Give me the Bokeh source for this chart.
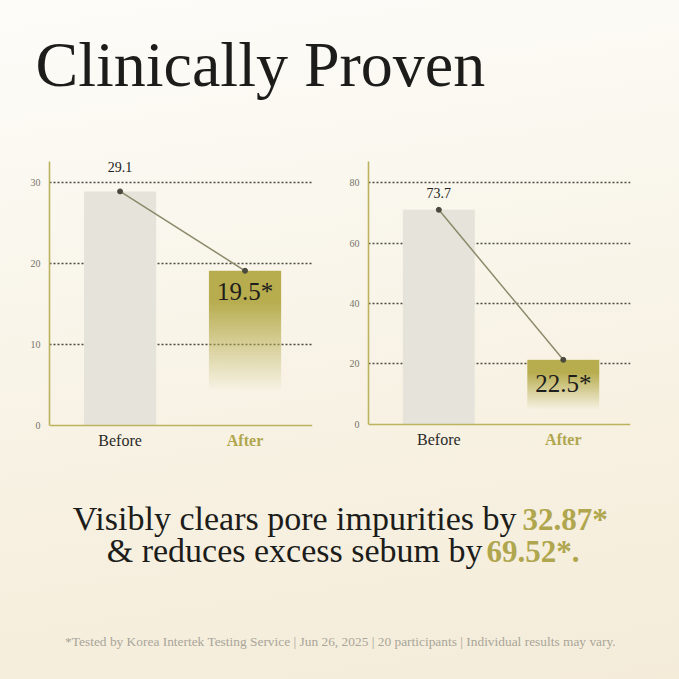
import numpy as np
from bokeh.plotting import figure
from bokeh.models import Range1d, FixedTicker, Label, LinearAxis
from bokeh.layouts import column, row
from bokeh.embed import file_html
from bokeh.resources import INLINE

# ---------------- data ----------------
categories = ["Before", "After"]
pore_values = [28.9, 19.1]          # bar heights as drawn
pore_labels = ["29.1", "19.5*"]
pore_ticks = [0, 10, 20, 30]
sebum_values = [71.0, 21.3]         # bar heights as drawn
sebum_labels = ["73.7", "22.5*"]
sebum_ticks = [0, 20, 40, 60, 80]

title_text = "Clinically Proven"
line1_text = "Visibly clears pore impurities by"
line1_value = "32.87*"
line2_text = "& reduces excess sebum by"
line2_value = "69.52*."
footnote = "*Tested by Korea Intertek Testing Service | Jun 26, 2025 | 20 participants | Individual results may vary."

# ---------------- style ----------------
SERIF = "Liberation Serif"
OLIVE = "#b0a64e"
GRAY_BAR = "#e6e3db"
DARK = "#1c1c1a"
BASE = 0.375  # baseline correction factor for labels


def gradient_image(rgb, n=200, solid_top=0.8, clear_bottom=0.22):
    t = np.linspace(0.0, 1.0, n)
    alpha = np.clip((t - clear_bottom) / (solid_top - clear_bottom), 0, 1)
    img = np.zeros((n, 1), dtype=np.uint32)
    view = img.view(dtype=np.uint8).reshape((n, 1, 4))
    view[:, 0, 0] = rgb[0]
    view[:, 0, 1] = rgb[1]
    view[:, 0, 2] = rgb[2]
    view[:, 0, 3] = (alpha * 255).astype(np.uint8)
    return img


def blank(width, height):
    p = figure(width=width, height=height, x_range=Range1d(0, width), y_range=Range1d(0, height),
               output_backend="svg", toolbar_location=None, title=None,
               min_border=0, min_border_left=0, min_border_right=0,
               min_border_top=0, min_border_bottom=0)
    p.axis.visible = False
    p.grid.visible = False
    p.background_fill_alpha = 0
    p.border_fill_alpha = 0
    p.outline_line_color = None
    return p


def text(p, x, y, s, size, color=DARK, align="left", bold=False):
    p.add_layout(Label(x=x, y=y + BASE * size, text=s, text_align=align, text_baseline="alphabetic",
                       text_font=SERIF, text_font_style="bold" if bold else "normal",
                       text_font_size=f"{size}px", text_color=color))


def chart(values, labels, ticks, y_start, y_end, width, height, borders, top_off, inside_off):
    bw = 0.578
    p = figure(width=width, height=height, x_range=Range1d(-0.565, 1.54), y_range=Range1d(y_start, y_end),
               output_backend="svg", toolbar_location=None, title=None,
               min_border_left=borders[0], min_border_right=borders[1],
               min_border_top=borders[2], min_border_bottom=borders[3])
    p.background_fill_alpha = 0
    p.border_fill_alpha = 0
    p.outline_line_color = None
    xs = [0, 1]

    p.vbar(x=[xs[0]], top=[values[0]], width=bw, color=GRAY_BAR, line_color=None)
    p.image_rgba(image=[gradient_image((183, 172, 78))], x=xs[1] - bw / 2, y=0, dw=bw, dh=values[1])
    p.line(xs, values, line_color="#8c896a", line_width=1.5)
    p.scatter(xs, values, size=5, color="#4a493d")

    # axes: x axes drawn at y = 0, category labels below
    before_axis = p.xaxis[0]
    before_axis.fixed_location = 0
    after_axis = LinearAxis(fixed_location=0)
    p.add_layout(after_axis, "below")
    before_axis.ticker = FixedTicker(ticks=[0])
    before_axis.major_label_overrides = {0: categories[0]}
    after_axis.ticker = FixedTicker(ticks=[1])
    after_axis.major_label_overrides = {1: categories[1]}
    p.yaxis.ticker = FixedTicker(ticks=ticks)
    p.yaxis.bounds = (0, y_end)
    for ax in [before_axis, after_axis] + list(p.yaxis):
        ax.axis_line_color = "#bdb25e"
        ax.axis_line_width = 1.6
        ax.major_tick_line_color = None
        ax.minor_tick_line_color = None
        ax.major_tick_out = 0
        ax.major_tick_in = 0
        ax.minor_tick_out = 0
        ax.minor_tick_in = 0
        ax.major_label_text_font = SERIF
    for ax in (before_axis, after_axis):
        ax.major_label_text_font_size = "16px"
        ax.major_label_standoff = 7
    before_axis.major_label_text_color = "#2a2a28"
    after_axis.axis_line_color = None
    after_axis.major_label_text_color = OLIVE
    after_axis.major_label_text_font_style = "bold"
    p.yaxis.major_label_text_font_size = "10px"
    p.yaxis.major_label_text_color = "#77746b"
    p.yaxis.major_label_standoff = 9

    p.xgrid.visible = False
    p.ygrid.ticker = FixedTicker(ticks=[t for t in ticks if t > 0])
    p.ygrid.grid_line_color = "#4d4b40"
    p.ygrid.grid_line_width = 1.3
    p.ygrid.grid_line_dash = "2 2"

    p.add_layout(Label(x=xs[0], y=values[0], text=labels[0], text_align="center",
                       text_baseline="alphabetic", y_offset=top_off + BASE * 14, text_font=SERIF,
                       text_color="#222220", text_font_size="14px"))
    p.add_layout(Label(x=xs[1], y=values[1], text=labels[1], text_align="center",
                       text_baseline="alphabetic", y_offset=-inside_off + BASE * 25, text_font=SERIF,
                       text_color="#1e1e1c", text_font_size="25px"))
    return p


# ---------------- figures ----------------
W = 679
top = blank(W, 140)
text(top, 35, 140 - 88, title_text, 64)

CH = 340
left = chart(pore_values, pore_labels, pore_ticks, -6.79, 32.59, 339, CH, (49, 27, 19, 0), 19, 30)
right = chart(sebum_values, sebum_labels, sebum_ticks, -18.67, 87.0, 340, CH, (29, 49, 21, 0), 12, 33)

BH = 679 - 140 - CH
bottom = blank(W, BH)
text(bottom, 516, 679 - 531, line1_text, 34, align="right")
text(bottom, 522, 679 - 531, line1_value, 31, color=OLIVE, bold=True)
text(bottom, 482, 679 - 563, line2_text, 34, align="right")
text(bottom, 486, 679 - 563, line2_value, 31, color=OLIVE, bold=True)
text(bottom, 340, 679 - 646, footnote, 13.4, color="#a9a599", align="center")

layout = column(top, row(left, right), bottom,
                styles={"background": "linear-gradient(172deg, #fdfcf9 0%, #faf7ee 30%, #f7f1e2 65%, #f4ecd9 100%)"})

open("out.html", "w").write(file_html(layout, INLINE))
